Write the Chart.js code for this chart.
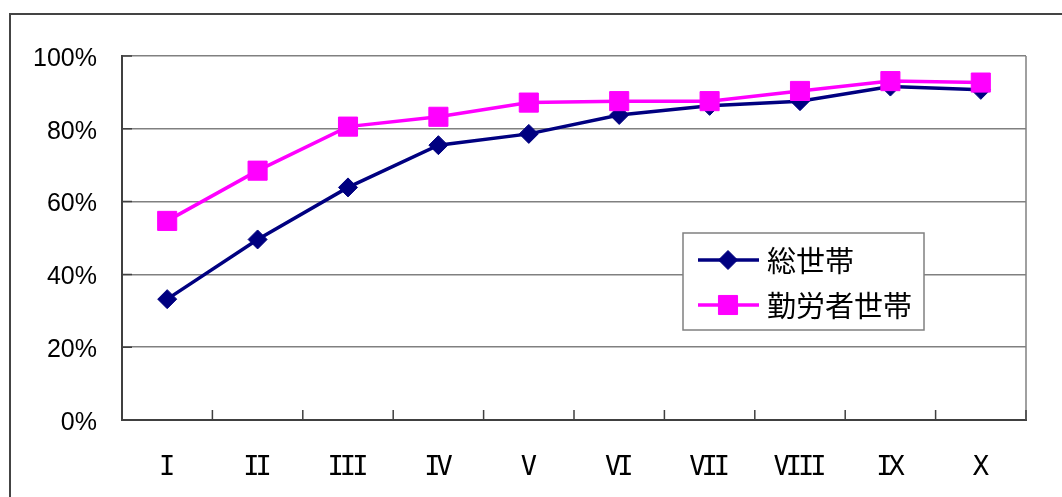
<!DOCTYPE html>
<html>
<head>
<meta charset="utf-8">
<script src="https://cdn.jsdelivr.net/npm/chart.js@4/dist/chart.umd.min.js"></script>
<style>
  html, body { margin: 0; padding: 0; background: #fff; overflow: hidden; }
  #frame { position: absolute; left: 9px; top: 13px; width: 1200px; height: 700px;
           border-left: 2px solid #444; border-top: 2px solid #444; }
  #wrap { position: absolute; left: 0; top: 0; width: 1062px; height: 497px; }
</style>
</head>
<body>
<div id="frame"></div>
<div id="wrap"><canvas id="c" width="1062" height="497"></canvas></div>
<script>
// Income deciles I–X
const categories = ['I', 'II', 'III', 'IV', 'V', 'VI', 'VII', 'VIII', 'IX', 'X'];
// Share per decile (%)
const allHouseholds    = [33.2, 49.6, 63.9, 75.5, 78.6, 83.8, 86.3, 87.6, 91.6, 90.7];
const workerHouseholds = [54.7, 68.5, 80.6, 83.3, 87.2, 87.6, 87.6, 90.4, 93.1, 92.7];
const seriesNames = ['総世帯', '勤労者世帯'];
const yTicks = [0, 20, 40, 60, 80, 100];

const NAVY = '#000080';
const MAGENTA = '#FF00FF';
const AXIS = '#404040';
const GRID = '#808080';

// Tighter letter spacing for the roman-numeral category labels
const tightCategoryLabels = {
  id: 'tightCategoryLabels',
  beforeDraw(chart) {
    const x = chart.scales.x;
    if (!x || x._tightWrapped) return;
    const orig = x.drawLabels.bind(x);
    x.drawLabels = function (area) {
      const c = this.ctx;
      c.save();
      c.letterSpacing = '-4px';
      orig(area);
      c.restore();
    };
    x._tightWrapped = true;
  }
};

// Inner tick marks, right plot edge and the boxed legend
const decorations = {
  id: 'decorations',
  beforeDatasetsDraw(chart) {
    const { ctx, chartArea: a, scales: { x, y } } = chart;
    ctx.save();
    ctx.strokeStyle = GRID;
    ctx.lineWidth = 1.5;
    ctx.beginPath();
    ctx.moveTo(a.right, a.top);
    ctx.lineTo(a.right, a.bottom);
    ctx.stroke();

    ctx.strokeStyle = AXIS;
    ctx.lineWidth = 1.5;
    ctx.beginPath();
    yTicks.forEach(v => {
      const py = y.getPixelForValue(v);
      ctx.moveTo(a.left, py);
      ctx.lineTo(a.left + 10, py);
    });
    for (let i = 1; i <= categories.length; i++) {
      const px = x.getPixelForValue(i - 0.5);
      ctx.moveTo(px, a.bottom);
      ctx.lineTo(px, a.bottom - 10);
    }
    ctx.stroke();
    ctx.restore();
  },
  afterDatasetsDraw(chart) {
    const { ctx } = chart;
    const box = { left: 683, top: 233, width: 241, height: 97 };
    const rows = [260, 305];
    ctx.save();
    ctx.fillStyle = '#fff';
    ctx.fillRect(box.left, box.top, box.width, box.height);
    ctx.strokeStyle = GRID;
    ctx.lineWidth = 1.5;
    ctx.strokeRect(box.left, box.top, box.width, box.height);

    chart.data.datasets.forEach((ds, i) => {
      const cy = rows[i];
      ctx.strokeStyle = ds.borderColor;
      ctx.lineWidth = ds.borderWidth;
      ctx.beginPath();
      ctx.moveTo(698, cy);
      ctx.lineTo(759, cy);
      ctx.stroke();
      ctx.fillStyle = ds.pointBackgroundColor;
      ctx.strokeStyle = ds.pointBorderColor;
      ctx.lineWidth = ds.pointBorderWidth;
      Chart.helpers.drawPoint(ctx, {
        pointStyle: ds.pointStyle, radius: ds.pointRadius, rotation: 0, borderWidth: ds.pointBorderWidth
      }, 728, cy);
      ctx.fillStyle = '#000';
      ctx.font = '29px "Noto Sans CJK JP"';
      ctx.textAlign = 'left';
      ctx.textBaseline = 'middle';
      ctx.fillText(ds.label, 767, cy + 1);
    });
    ctx.restore();
  }
};

new Chart(document.getElementById('c'), {
  type: 'line',
  data: {
    labels: categories,
    datasets: [
      {
        label: seriesNames[0],
        data: allHouseholds,
        borderColor: NAVY,
        borderWidth: 3.5,
        pointStyle: 'rectRot',
        pointRadius: 9.5,
        pointBackgroundColor: NAVY,
        pointBorderColor: NAVY,
        pointBorderWidth: 1,
        tension: 0,
        order: 1
      },
      {
        label: seriesNames[1],
        data: workerHouseholds,
        borderColor: MAGENTA,
        borderWidth: 3.5,
        pointStyle: 'rect',
        pointRadius: 13.5,
        pointBackgroundColor: MAGENTA,
        pointBorderColor: MAGENTA,
        pointBorderWidth: 1,
        tension: 0,
        order: 0
      }
    ]
  },
  options: {
    responsive: false,
    animation: false,
    devicePixelRatio: 1,
    layout: { padding: { left: 0, top: 56, right: 36, bottom: 0 } },
    plugins: { legend: { display: false }, tooltip: { enabled: false } },
    scales: {
      x: {
        offset: true,
        grid: { color: 'rgba(0,0,0,0)', drawTicks: false, offset: true },
        border: { color: AXIS, width: 2 },
        ticks: {
          color: '#000',
          padding: 32,
          labelOffset: -2,
          maxRotation: 0,
          font: { family: '"DejaVu Sans Mono"', size: 27 }
        },
        afterFit(s) { s.height = 77; }
      },
      y: {
        min: 0,
        max: 100,
        afterBuildTicks(s) { s.ticks = yTicks.map(v => ({ value: v })); },
        grid: { color: GRID, lineWidth: 1.5, drawTicks: false },
        border: { color: AXIS, width: 2 },
        ticks: {
          color: '#000',
          padding: 25,
          labelOffset: 3,
          callback: v => v + '%',
          font: { family: '"Liberation Sans", Arial, sans-serif', size: 25 }
        },
        afterFit(s) { s.width = 122; }
      }
    }
  },
  plugins: [tightCategoryLabels, decorations]
});
</script>
</body>
</html>
